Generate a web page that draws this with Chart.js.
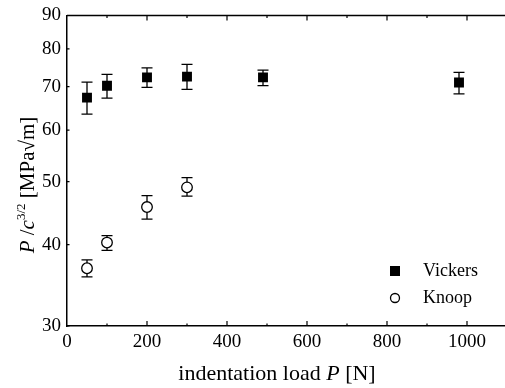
<!DOCTYPE html>
<html>
<head>
<meta charset="utf-8">
<script src="https://cdn.jsdelivr.net/npm/chart.js@4/dist/chart.umd.min.js"></script>
<style>
  html, body { margin: 0; padding: 0; background: #fff; }
  #wrap { width: 505px; height: 388px; }
</style>
</head>
<body>
<div id="wrap"><canvas id="chart" width="505" height="388"></canvas></div>
<script>
const vickersLoad = [50, 100, 200, 300, 490, 980];
const vickersK = [67.3, 70.2, 72.3, 72.5, 72.3, 71.0];
const vickersLow = [63.5, 67.2, 69.8, 69.3, 70.2, 68.2];
const vickersHigh = [71.1, 73.1, 74.8, 75.7, 74.2, 73.6];

const knoopLoad = [50, 100, 200, 300];
const knoopK = [36.8, 40.3, 45.7, 49.0];
const knoopLow = [35.7, 39.2, 43.8, 47.5];
const knoopHigh = [37.9, 41.3, 47.6, 50.7];

const yTicks = [30, 40, 50, 60, 70, 80, 90];

const serif = '"Liberation Serif", "DejaVu Serif", serif';

function points(xs, ys) {
  return xs.map((x, i) => ({ x: x, y: ys[i] }));
}

// error bars, drawn under the markers
const errorBars = {
  id: 'errorBars',
  beforeDatasetsDraw(chart) {
    const ctx = chart.ctx;
    const xs = chart.scales.x, ys = chart.scales.y;
    const sets = [[vickersLoad, vickersLow, vickersHigh], [knoopLoad, knoopLow, knoopHigh]];
    ctx.save();
    ctx.strokeStyle = '#000';
    ctx.lineWidth = 1.3;
    for (const [xv, lo, hi] of sets) {
      xv.forEach((x, i) => {
        const px = xs.getPixelForValue(x);
        const y1 = ys.getPixelForValue(lo[i]);
        const y2 = ys.getPixelForValue(hi[i]);
        ctx.beginPath();
        ctx.moveTo(px, y1); ctx.lineTo(px, y2);
        ctx.moveTo(px - 5.5, y1); ctx.lineTo(px + 5.5, y1);
        ctx.moveTo(px - 5.5, y2); ctx.lineTo(px + 5.5, y2);
        ctx.stroke();
      });
    }
    ctx.restore();
  }
};

function drawPieces(ctx, pieces, size) {
  // pieces: [text, style] ; style 'n' normal, 'i' italic, 's' superscript
  const fontFor = st => st === 'i' ? 'italic ' + size + 'px ' + serif
    : st === 's' ? Math.round(size * 0.62) + 'px ' + serif : size + 'px ' + serif;
  let total = 0;
  for (const [t, st] of pieces) { ctx.font = fontFor(st); total += ctx.measureText(t).width; }
  let x = -total / 2;
  for (const [t, st] of pieces) {
    ctx.font = fontFor(st);
    ctx.fillText(t, x, st === 's' ? -size * 0.42 : 0);
    x += ctx.measureText(t).width;
  }
}

const frame = {
  id: 'frame',
  afterDraw(chart) {
    const ctx = chart.ctx;
    const a = chart.chartArea;
    const xs = chart.scales.x, ys = chart.scales.y;
    ctx.save();
    ctx.strokeStyle = '#000';
    ctx.lineWidth = 1.5;
    ctx.beginPath();
    ctx.moveTo(a.left, a.top); ctx.lineTo(a.right, a.top);
    ctx.stroke();
    // inward ticks on x (bottom and top), majors every 200, minors every 100
    ctx.lineWidth = 1.2;
    ctx.beginPath();
    for (let v = 100; v <= xs.max; v += 100) {
      const px = xs.getPixelForValue(v);
      const len = v % 200 === 0 ? 5 : 2.5;
      ctx.moveTo(px, a.bottom); ctx.lineTo(px, a.bottom - len);
      ctx.moveTo(px, a.top); ctx.lineTo(px, a.top + len);
    }
    for (const v of yTicks) {
      const py = ys.getPixelForValue(v);
      ctx.moveTo(a.left, py); ctx.lineTo(a.left + 2.5, py);
    }
    ctx.stroke();

    // legend
    ctx.fillStyle = '#000';
    ctx.fillRect(390, 266, 10, 10);
    ctx.lineWidth = 1.3;
    ctx.beginPath();
    ctx.arc(395, 298, 4.5, 0, Math.PI * 2);
    ctx.stroke();
    ctx.font = '18px ' + serif;
    ctx.textBaseline = 'middle';
    ctx.textAlign = 'left';
    ctx.fillText('Vickers', 423, 271);
    ctx.fillText('Knoop', 423, 298);

    // axis titles
    ctx.textBaseline = 'alphabetic';
    ctx.save();
    ctx.translate(277, 380);
    drawPieces(ctx, [['indentation load ', 'n'], ['P', 'i'], [' [N]', 'n']], 22);
    ctx.restore();
    ctx.save();
    ctx.translate(34, 185);
    ctx.rotate(-Math.PI / 2);
    drawPieces(ctx, [['P', 'i'], [' /', 'n'], ['c', 'i'], ['3/2', 's'], [' [MPa\u221Am]', 'n']], 21);
    ctx.restore();
    ctx.restore();
  }
};

new Chart(document.getElementById('chart'), {
  type: 'scatter',
  data: {
    datasets: [
      {
        label: 'Vickers',
        data: points(vickersLoad, vickersK),
        pointStyle: 'rect',
        pointRadius: 7,
        pointBackgroundColor: '#000',
        pointBorderColor: '#000',
        pointBorderWidth: 0
      },
      {
        label: 'Knoop',
        data: points(knoopLoad, knoopK),
        pointStyle: 'circle',
        pointRadius: 5.3,
        pointBackgroundColor: '#fff',
        pointBorderColor: '#000',
        pointBorderWidth: 1.3
      }
    ]
  },
  options: {
    responsive: false,
    animation: false,
    layout: { autoPadding: false, padding: { top: 14, right: 0, left: 0, bottom: 0 } },
    plugins: { legend: { display: false }, tooltip: { enabled: false } },
    scales: {
      x: {
        type: 'linear',
        min: 0,
        max: 1095,
        grid: { display: false, drawTicks: false },
        border: { display: true, color: '#000', width: 1.5 },
        ticks: {
          stepSize: 200,
          includeBounds: false,
          maxRotation: 0,
          padding: 5,
          color: '#000',
          font: { family: serif, size: 19 },
          callback: v => String(v)
        },
        afterFit(scale) { scale.height = 62; }
      },
      y: {
        type: 'logarithmic',
        min: 30,
        max: 90,
        grid: { display: false, drawTicks: false },
        border: { display: true, color: '#000', width: 1.5 },
        afterBuildTicks(scale) { scale.ticks = yTicks.map(v => ({ value: v })); },
        ticks: {
          padding: 6,
          color: '#000',
          font: { family: serif, size: 19, lineHeight: 1 },
          callback: v => String(v)
        },
        afterFit(scale) { scale.width = 67; }
      }
    }
  },
  plugins: [errorBars, frame]
});
</script>
</body>
</html>
